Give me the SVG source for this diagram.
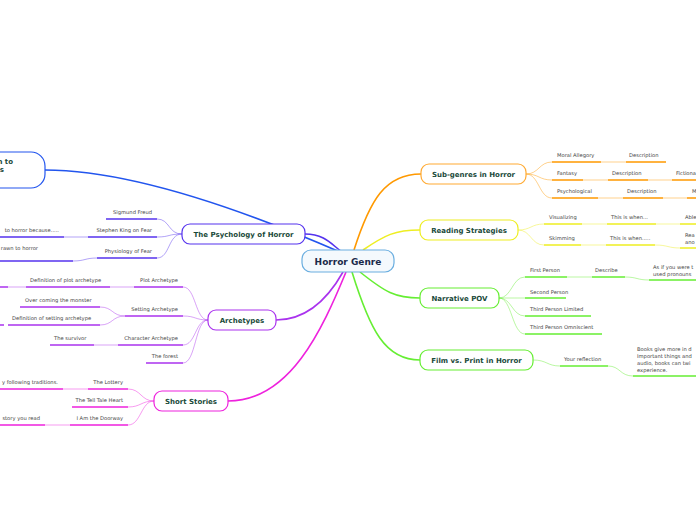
<svg xmlns="http://www.w3.org/2000/svg" width="696" height="520" viewBox="0 0 696 520">
<style>
text{font-family:"DejaVu Sans","Verdana",sans-serif}
.t{font-size:5.2px;fill:#444}
.n{font-size:7px;font-weight:bold;fill:#1a4a3a}
.c{font-size:9px;font-weight:bold;fill:#1a2a4a}
.r{text-anchor:end}
.m{text-anchor:middle}
.u{fill:none;stroke-width:1.6}
.l{fill:none;stroke-width:1;opacity:0.45}
.b{fill:none;stroke-width:1.6}
.box{fill:#fff;stroke-width:1.2}
</style>
<rect width="696" height="520" fill="#fff"/>
<g id="connectors">
<path class="b" stroke="#2255ee" d="M45,170 C120,170 220,200 340,252"/>
<path class="b" stroke="#5533ee" d="M305,234 C325,234 332,245 342,252"/>
<path class="b" stroke="#aa33ee" d="M276,320 C310,320 330,295 343,272"/>
<path class="b" stroke="#ee22dd" d="M228,401 C290,401 322,330 346,272"/>
<path class="b" stroke="#ff9900" d="M354,250 C370,200 385,174 421,174"/>
<path class="b" stroke="#eeee22" d="M363,250 C385,235 395,230 420,230"/>
<path class="b" stroke="#66ee33" d="M360,272 C385,292 395,298 420,298"/>
<path class="b" stroke="#66ee33" d="M352,272 C370,330 385,360 420,360"/>
<!-- psychology -->
<g stroke="#5533ee">
<path class="l" d="M182,234 C168,234 170,219 157,219"/>
<path class="l" d="M182,234 C168,234 170,237 157,237"/>
<path class="l" d="M182,234 C168,234 170,258 157,258"/>
<path class="l" d="M88,237 L64,237"/>
<path class="l" d="M97,258 C85,258 85,261 73,261"/>
<path class="u" d="M106,219 H157 M88,237 H157 M97,258 H157 M0,237 H64 M0,261 H73"/>
</g>
<!-- archetypes -->
<g stroke="#aa33ee">
<path class="l" d="M208,320 C195,320 196,287 183,287"/>
<path class="l" d="M208,320 C195,320 196,316 183,316"/>
<path class="l" d="M208,320 C195,320 196,345 183,345"/>
<path class="l" d="M208,320 C195,320 196,363 183,363"/>
<path class="l" d="M134,287 L110,287 M26,287 L8,287"/>
<path class="l" d="M125,316 C112,316 113,307 100,307"/>
<path class="l" d="M125,316 C112,316 113,325 100,325"/>
<path class="l" d="M118,345 L94,345"/>
<path class="u" d="M134,287 H183 M26,287 H110 M0,287 H8 M125,316 H183 M20,307 H100 M8,325 H100 M0,325 H4 M118,345 H183 M50,345 H94 M146,363 H183"/>
</g>
<!-- short stories -->
<g stroke="#ee22dd">
<path class="l" d="M154,401 C141,401 141,389 128,389"/>
<path class="l" d="M154,401 C141,401 141,407 128,407"/>
<path class="l" d="M154,401 C141,401 141,425 128,425"/>
<path class="l" d="M88,389 L63,389 M70,425 L45,425"/>
<path class="u" d="M88,389 H128 M0,389 H63 M72,407 H128 M70,425 H128 M0,425 H45"/>
</g>
<!-- sub-genres -->
<g stroke="#ff9900">
<path class="l" d="M526,174 C539,174 539,162 552,162"/>
<path class="l" d="M526,174 C539,174 539,180 552,180"/>
<path class="l" d="M526,174 C539,174 539,198 552,198"/>
<path class="l" d="M601,162 L626,162 M583,180 L608,180 M648,180 L672,180 M598,198 L623,198 M663,198 L687,198"/>
<path class="u" d="M552,162 H601 M626,162 H666 M552,180 H583 M608,180 H648 M672,180 H696 M552,198 H598 M623,198 H663 M687,198 H696"/>
</g>
<!-- reading -->
<g stroke="#eeee22">
<path class="l" d="M518,230 C531,230 531,224 544,224"/>
<path class="l" d="M518,230 C531,230 531,245 544,245"/>
<path class="l" d="M582,224 L607,224 M656,224 L680,224 M581,245 L606,245"/>
<path class="l" d="M655,245 C668,245 668,248 680,248"/>
<path class="u" d="M544,224 H582 M607,224 H656 M680,224 H696 M544,245 H581 M606,245 H655 M680,248 H696"/>
</g>
<!-- narrative -->
<g stroke="#66ee33">
<path class="l" d="M499,298 C512,298 512,277 525,277"/>
<path class="l" d="M499,298 C512,298 512,298 525,298"/>
<path class="l" d="M499,298 C512,298 512,316 525,316"/>
<path class="l" d="M499,298 C512,298 512,334 525,334"/>
<path class="l" d="M567,277 L592,277"/>
<path class="l" d="M625,277 C637,277 637,280 649,280"/>
<path class="u" d="M525,277 H567 M592,277 H625 M649,280 H696 M525,298 H566 M525,316 H591 M525,334 H602"/>
<path class="l" d="M533,360 C547,360 547,366 560,366"/>
<path class="l" d="M608,366 C620,366 620,376 633,376"/>
<path class="u" d="M560,366 H608 M633,376 H696"/>
</g>
</g>
<g id="center">
<rect x="302" y="250" width="92" height="22" rx="9" fill="#f4f9fd" stroke="#6aaee0" stroke-width="1.2"/>
<text class="c m" x="348" y="264.5">Horror Genre</text>
</g>
<g id="intro">
<rect class="box" x="-40" y="152" width="85" height="36" rx="14" stroke="#2255ee"/>
<text class="n r" x="13" y="164">n to</text>
<text class="n r" x="4" y="172">s</text>
</g>
<g id="psychology">
<rect class="box" x="182" y="224" width="123" height="20" rx="8" stroke="#5533ee"/>
<text class="n m" x="243.5" y="236.5">The Psychology of Horror</text>
<text class="t r" x="152" y="214">Sigmund Freud</text>
<text class="t r" x="152" y="232">Stephen King on Fear</text>
<text class="t r" x="152" y="253">Physiology of Fear</text>
<text class="t r" x="59" y="232">to horror because.....</text>
<text class="t r" x="38" y="250">rawn to horror</text>
</g>
<g id="archetypes">
<rect class="box" x="208" y="310" width="68" height="20" rx="8" stroke="#aa33ee"/>
<text class="n m" x="242" y="322.5">Archetypes</text>
<text class="t r" x="178" y="282">Plot Archetype</text>
<text class="t" x="30" y="282">Definition of plot archetype</text>
<text class="t r" x="178" y="311">Setting Archetype</text>
<text class="t" x="25" y="302">Over coming the monster</text>
<text class="t" x="12" y="320">Definition of setting archetype</text>
<text class="t r" x="178" y="340">Character Archetype</text>
<text class="t" x="54" y="340">The survivor</text>
<text class="t r" x="178" y="358">The forest</text>
</g>
<g id="short-stories">
<rect class="box" x="154" y="391" width="74" height="20" rx="8" stroke="#ee22dd"/>
<text class="n m" x="191" y="403.5">Short Stories</text>
<text class="t r" x="123" y="384">The Lottery</text>
<text class="t r" x="58" y="384">y following traditions.</text>
<text class="t r" x="123" y="402">The Tell Tale Heart</text>
<text class="t r" x="123" y="420">I Am the Doorway</text>
<text class="t r" x="40" y="420">story you read</text>
</g>
<g id="sub-genres">
<rect class="box" x="421" y="164" width="105" height="20" rx="8" stroke="#ffaa33"/>
<text class="n m" x="473.5" y="176.5">Sub-genres in Horror</text>
<text class="t" x="557" y="157">Moral Allegory</text>
<text class="t" x="629" y="157">Description</text>
<text class="t" x="557" y="175">Fantasy</text>
<text class="t" x="612" y="175">Description</text>
<text class="t" x="676" y="175">Fictiona</text>
<text class="t" x="557" y="193">Psychological</text>
<text class="t" x="627" y="193">Description</text>
<text class="t" x="692" y="193">M</text>
</g>
<g id="reading">
<rect class="box" x="420" y="220" width="98" height="20" rx="8" stroke="#eeee22"/>
<text class="n m" x="469" y="232.5">Reading Strategies</text>
<text class="t" x="549" y="219">Visualizing</text>
<text class="t" x="611" y="219">This is when...</text>
<text class="t" x="685" y="219">Able</text>
<text class="t" x="549" y="240">Skimming</text>
<text class="t" x="610" y="240">This is when.....</text>
<text class="t" x="685" y="237">Rea</text>
<text class="t" x="685" y="244">ano</text>
</g>
<g id="narrative">
<rect class="box" x="420" y="288" width="79" height="20" rx="8" stroke="#66ee33"/>
<text class="n m" x="459.5" y="300.5">Narrative POV</text>
<text class="t" x="530" y="272">First Person</text>
<text class="t" x="595" y="272">Describe</text>
<text class="t" x="653" y="269">As if you were t</text>
<text class="t" x="653" y="276">used pronouns</text>
<text class="t" x="530" y="294">Second Person</text>
<text class="t" x="530" y="311">Third Person Limited</text>
<text class="t" x="530" y="329">Third Person Omniscient</text>
</g>
<g id="film">
<rect class="box" x="420" y="350" width="113" height="20" rx="8" stroke="#66ee33"/>
<text class="n m" x="476.5" y="362.5">Film vs. Print in Horror</text>
<text class="t" x="564" y="361">Your reflection</text>
<text class="t" x="637" y="351">Books give more in d</text>
<text class="t" x="637" y="358">Important things and</text>
<text class="t" x="637" y="365">audio, books can twi</text>
<text class="t" x="637" y="372">experience.</text>
</g>
</svg>
